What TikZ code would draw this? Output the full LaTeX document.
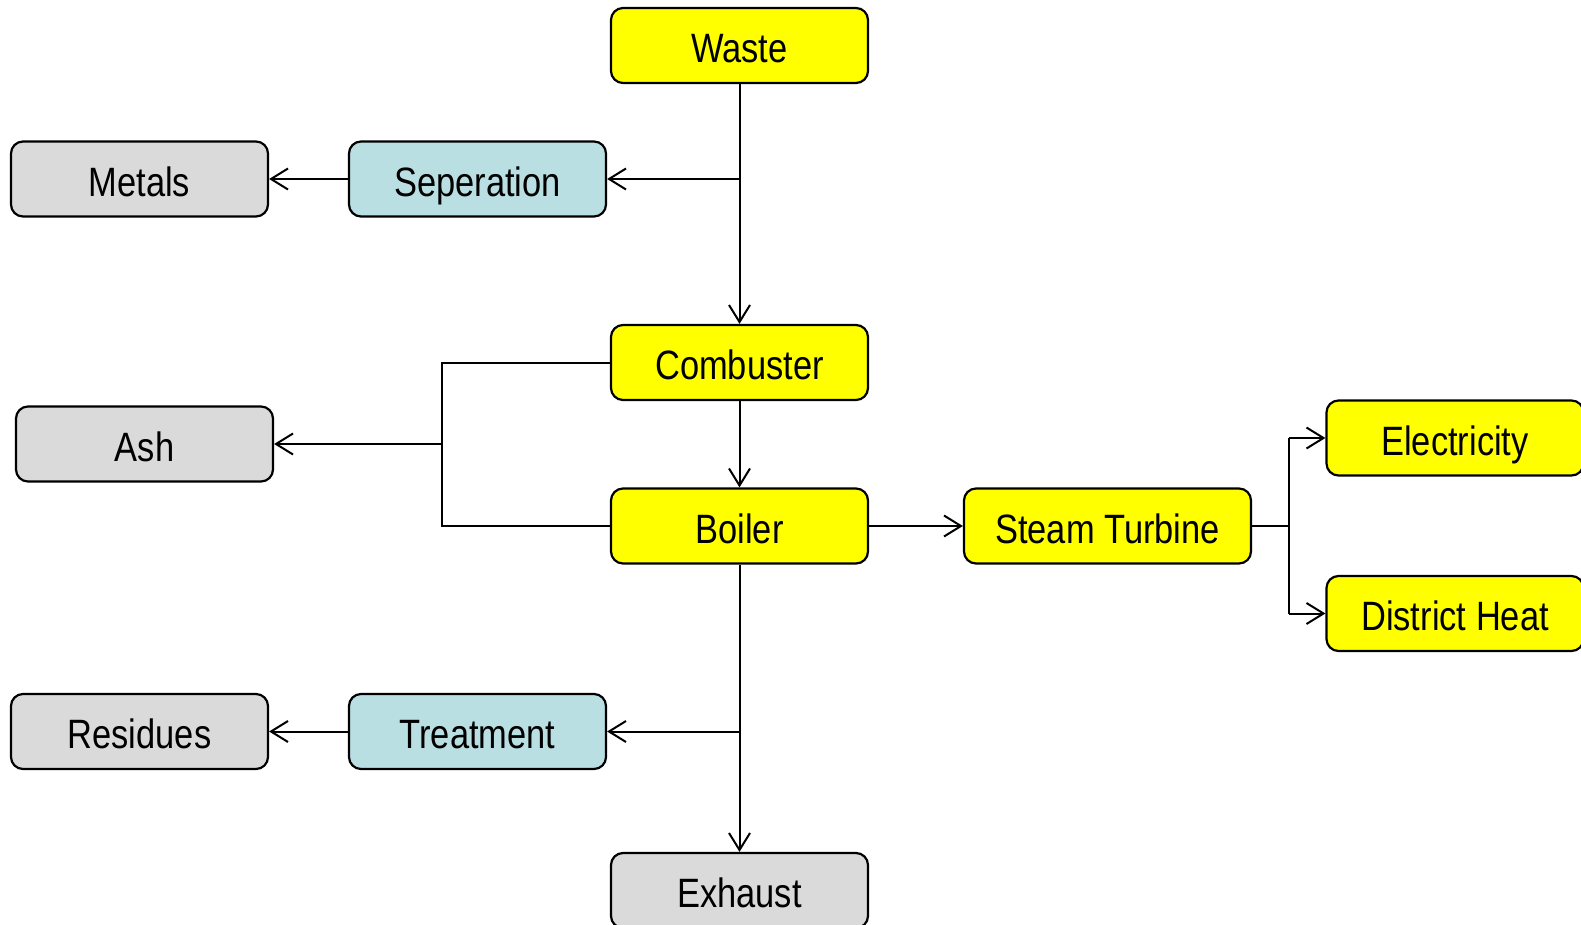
\documentclass[tikz,border=0pt]{standalone}
\usepackage{fontspec}
\setmainfont{Liberation Sans}[FakeStretch=0.84]
\usetikzlibrary{arrows.meta}
\definecolor{procyellow}{HTML}{FFFF00}
\definecolor{proccyan}{HTML}{B9DFE2}
\definecolor{outgray}{HTML}{DADADA}
\begin{document}
\begin{tikzpicture}[x=1pt,y=-1pt,
  box/.style={draw=black, line width=2.2pt, rounded corners=12pt,
    minimum width=257pt, minimum height=75pt, inner sep=0pt,
    text height=35pt, text depth=0.6pt,
    font=\fontsize{41}{46}\selectfont},
  yel/.style={box, fill=procyellow},
  cyn/.style={box, fill=proccyan},
  gry/.style={box, fill=outgray},
  link/.style={line width=2pt},
  arr/.style={link, -{Straight Barb[length=17pt,width=21pt,line width=2pt]}}]
\useasboundingbox (0,0) rectangle (1581,925);
\fill[white] (0,0) rectangle (1581,925);

% main process column
\node[yel] (waste)     at (739.5,45.5)  {Waste};
\node[yel] (combuster) at (739.5,362.5) {Combuster};
\node[yel] (boiler)    at (739.5,526)   {Boiler};
\node[gry] (exhaust)   at (739.5,890.5) {Exhaust};

% side streams
\node[cyn] (sep)      at (477.5,179)   {Seperation};
\node[gry] (metals)   at (139.5,179)   {Metals};
\node[gry] (ash)      at (144.5,444)   {Ash};
\node[cyn] (treat)    at (477.5,731.5) {Treatment};
\node[gry] (residues) at (139.5,731.5) {Residues};

% energy outputs
\node[yel, minimum width=287pt] (turbine) at (1107.5,526) {Steam Turbine};
\node[yel] (elec) at (1455,438)   {Electricity};
\node[yel] (heat) at (1455,613.5) {District Heat};

% junction points
\coordinate (sepj) at (waste.south |- sep.east);
\coordinate (ashx) at (442,444);
\coordinate (treatj) at (boiler.south |- treat.east);
\coordinate (turbj) at (1289,526);

% connectors
\draw[arr] (waste.south) -- (combuster.north);
\draw[arr] (sepj) -- (sep.east);
\draw[arr] (sep.west) -- (metals.east);
\draw[arr] (combuster.south) -- (boiler.north);
\draw[link] (combuster.west) -- (ashx |- combuster.west) -- (ashx |- boiler.west) -- (boiler.west);
\draw[arr] (ashx) -- (ash.east);
\draw[arr] (boiler.east) -- (turbine.west);
\draw[link] (turbine.east) -- (turbj);
\draw[link] (turbj |- elec.west) -- (turbj |- heat.west);
\draw[arr] (turbj |- elec.west) -- (elec.west);
\draw[arr] (turbj |- heat.west) -- (heat.west);
\draw[arr] (boiler.south) -- (exhaust.north);
\draw[arr] (treatj) -- (treat.east);
\draw[arr] (treat.west) -- (residues.east);
\end{tikzpicture}
\end{document}
